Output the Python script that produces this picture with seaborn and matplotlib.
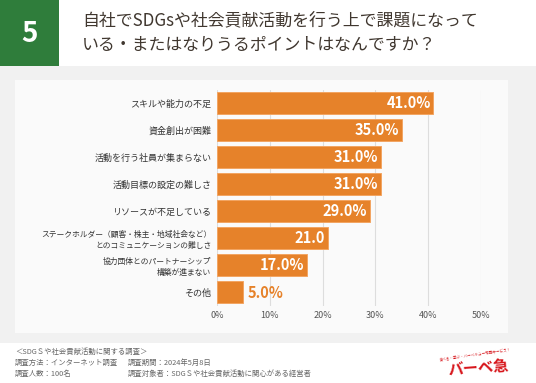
import numpy as np
import pandas as pd
import seaborn as sns
import matplotlib.pyplot as plt
from matplotlib.patches import Rectangle

categories = [
    "スキルや能力の不足",
    "資金創出が困難",
    "活動を行う社員が集まらない",
    "活動目標の設定の難しさ",
    "リソースが不足している",
    "ステークホルダー（顧客・株主・地域社会など）\nとのコミュニケーションの難しさ",
    "協力団体とのパートナーシップ\n構築が進まない",
    "その他",
]
values = [41.0, 35.0, 31.0, 31.0, 29.0, 21.0, 17.0, 5.0]
value_labels = ["41.0%", "35.0%", "31.0%", "31.0%", "29.0%", "21.0", "17.0%", "5.0%"]
xticks = [0, 10, 20, 30, 40, 50]

title_lines = ["自社でSDGsや社会貢献活動を行う上で課題になって",
               "いる・またはなりうるポイントはなんですか？"]
footer_left = ["＜SDGＳや社会貢献活動に関する調査＞", "調査方法：インターネット調査", "調査人数：100名"]
footer_right = ["調査期間：2024年5月8日", "調査対象者：SDGＳや社会貢献活動に関心がある経営者"]

sns.set_theme(style="white")
plt.rcParams['font.family'] = ['Noto Sans CJK JP', 'DejaVu Sans']

W, H = 536, 383
fig = plt.figure(figsize=(W / 100, H / 100), dpi=100)
fig.patch.set_facecolor("white")


def px(x, y):
    return x / W, 1 - y / H


# background bands
fig.add_artist(Rectangle((0, 1 - 343 / H), 1, (343 - 66) / H, transform=fig.transFigure,
                         facecolor="#f1f1f1", edgecolor="none", zorder=0))
fig.add_artist(Rectangle((15 / W, 1 - 333 / H), (508 - 15) / W, (333 - 80) / H,
                         transform=fig.transFigure, facecolor="#fafafa", edgecolor="none", zorder=0))
fig.add_artist(Rectangle((0, 1 - 66 / H), 59 / W, 66 / H, transform=fig.transFigure,
                         facecolor="#2f7d3b", edgecolor="none", zorder=1))
fig.text(*px(29.5, 34), "5", color="white", fontsize=20, fontweight="bold",
         ha="center", va="center")
for i, line in enumerate(title_lines):
    fig.text(*px(82, 20 + 25 * i), line, color="#40372f", fontsize=12.2,
             ha="left", va="center")

df = pd.DataFrame({"cat": categories, "val": values})
ax = fig.add_axes([217 / W, 1 - 305.5 / H, (481 - 217) / W, (305.5 - 89.5) / H])
ax.set_facecolor("none")
sns.barplot(data=df, y="cat", x="val", orient="h", color="#e6822a", saturation=1,
            width=0.83, edgecolor="#f3a562", linewidth=0.7, ax=ax, zorder=3)
ax.set_xlim(0, 50)
ax.set_xticks(xticks)
ax.set_xticklabels([f"{t}%" for t in xticks], fontsize=6.5, color="#555555")
ax.grid(axis="x", color="#dddddd", linewidth=0.8, zorder=0)
ax.set_axisbelow(True)
for s in ax.spines.values():
    s.set_visible(False)
ax.tick_params(axis="both", length=0, pad=4)
ax.set_xlabel("")
ax.set_ylabel("")
ax.set_yticks(range(len(categories)))
labels = ax.set_yticklabels(categories, color="#333333", fontsize=6.5, linespacing=1.5)
for lab, c in zip(labels, categories):
    if "\n" in c:
        lab.set_fontsize(5.6)

for i, (v, t) in enumerate(zip(values, value_labels)):
    if v > 10:
        ax.text(v - 0.5, i, t, color="white", fontsize=10.5, fontweight="bold",
                ha="right", va="center", zorder=5)
    else:
        ax.text(v + 0.8, i + 0.05, t, color="#e6822a", fontsize=10.5, fontweight="bold",
                ha="left", va="center", zorder=5)

# footer
for i, line in enumerate(footer_left):
    fig.text(*px(15, 352 + 11 * i), line, color="#666666", fontsize=5.3, ha="left", va="center")
for i, line in enumerate(footer_right):
    fig.text(*px(128, 363 + 11 * i), line, color="#666666", fontsize=5.3, ha="left", va="center")

# logo
fig.text(*px(476, 355), "食べる・学ぶ・バーベキュー宅配サービス！", color="#d7151b", fontsize=2.6,
         ha="center", va="center", rotation=8)
fig.text(*px(478, 368), "バーベ急", color="#d7151b", fontsize=11, fontweight="bold",
         ha="center", va="center", rotation=4)

fig.savefig("out.png", dpi=100)
